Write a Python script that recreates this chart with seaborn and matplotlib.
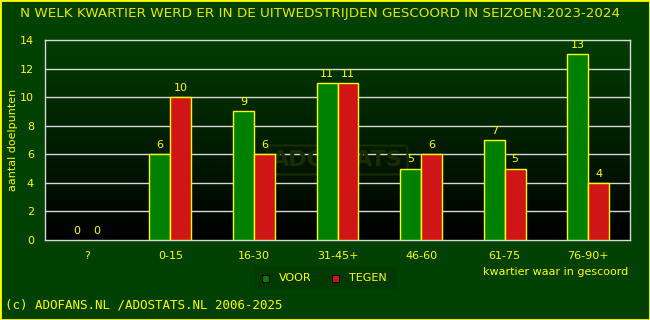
import numpy as np
import pandas as pd
import matplotlib
matplotlib.use('Agg')
import matplotlib.pyplot as plt
from matplotlib.colors import LinearSegmentedColormap
from matplotlib.patches import Rectangle
import seaborn as sns

kwartieren = ['?', '0-15', '16-30', '31-45+', '46-60', '61-75', '76-90+']
voor = [0, 6, 9, 11, 5, 7, 13]
tegen = [0, 10, 6, 11, 6, 5, 4]

data = pd.DataFrame({
    'kwartier': kwartieren * 2,
    'doelpunten': voor + tegen,
    'soort': ['VOOR'] * len(voor) + ['TEGEN'] * len(tegen),
})

geel = '#ffff00'
sns.set_style('dark')
plt.rcParams['font.family'] = ['DejaVu Sans']

fig = plt.figure(figsize=(6.5, 3.2), dpi=100, facecolor='#004000')
ax = fig.add_axes([45 / 650, 80 / 320, 585 / 650, 200 / 320])

# achtergrond met verloop
verloop = LinearSegmentedColormap.from_list('verloop', ['#000000', '#003c00'])
ax.imshow(np.linspace(0, 1, 256).reshape(-1, 1), cmap=verloop, aspect='auto',
          extent=[-0.5, 6.5, 0, 14], origin='lower', zorder=0)

for y in range(2, 14, 2):
    ax.axhline(y, color='#d8d8d8', lw=1, zorder=1)

sns.barplot(data=data, x='kwartier', y='doelpunten', hue='soort',
            palette={'VOOR': '#008000', 'TEGEN': '#d01515'}, saturation=1,
            width=0.5, edgecolor=geel, linewidth=1, ax=ax, zorder=3,
            legend=False)

for c in ax.containers:
    for p in c:
        if p.get_height() == 0:
            p.set_visible(False)
    ax.bar_label(c, color=geel, fontsize=8, padding=3)

ax.text(3.0, 5.6, 'ADOSTATS', fontsize=16, fontweight='bold', color='#1a2c00',
        ha='center', va='center', zorder=2,
        bbox=dict(boxstyle='round,pad=0.2', fc='none', ec='#1a2c00', lw=1.5))

ax.set_xlim(-0.5, 6.5)
ax.set_ylim(0, 14)
ax.set_yticks(range(0, 15, 2))
ax.set_xlabel('')
ax.set_ylabel('aantal doelpunten', color=geel, fontsize=8)
ax.yaxis.set_label_coords(-27 / 585, 0.5)
ax.tick_params(colors=geel, labelsize=8, length=0, pad=8)
for s in ax.spines.values():
    s.set_visible(True)
    s.set_color('#d8d8d8')
    s.set_linewidth(1)
ax.grid(False)

fig.text(20 / 650, 1 - 13 / 320,
         'N WELK KWARTIER WERD ER IN DE UITWEDSTRIJDEN GESCOORD IN SEIZOEN:2023-2024',
         color='#e8e800', fontsize=9.7, va='center', ha='left')
fig.text(628 / 650, 1 - 272 / 320, 'kwartier waar in gescoord', color=geel,
         fontsize=8, ha='right', va='center')
fig.text(5 / 650, 1 - 305 / 320, '(c) ADOFANS.NL /ADOSTATS.NL 2006-2025',
         color=geel, fontsize=9, ha='left', va='center', family='DejaVu Sans Mono')

# legenda
fig.patches.append(Rectangle((255 / 650, 1 - 289 / 320), 142 / 650, 22 / 320,
                             transform=fig.transFigure, fc='#003a00', ec='none'))
fig.patches.append(Rectangle((262 / 650, 1 - 282 / 320), 7 / 650, 7 / 320,
                             transform=fig.transFigure, fc='#008000', ec='black', lw=0.8))
fig.text(279 / 650, 1 - 278 / 320, 'VOOR', color=geel, fontsize=8, va='center')
fig.patches.append(Rectangle((332 / 650, 1 - 282 / 320), 7 / 650, 7 / 320,
                             transform=fig.transFigure, fc='#d01515', ec='black', lw=0.8))
fig.text(349 / 650, 1 - 278 / 320, 'TEGEN', color=geel, fontsize=8, va='center')

fig.patches.append(Rectangle((0, 0), 1, 1, transform=fig.transFigure,
                             fc='none', ec=geel, lw=2))

fig.savefig('out.png', dpi=100, facecolor=fig.get_facecolor())
